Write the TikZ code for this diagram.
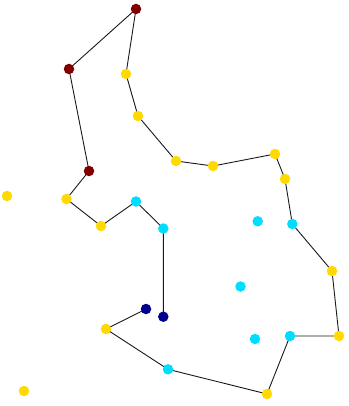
\documentclass[tikz,border=0pt]{standalone}
\definecolor{dred}{RGB}{128,0,0}
\definecolor{yel}{RGB}{255,217,0}
\definecolor{cya}{RGB}{0,221,255}
\definecolor{dblue}{RGB}{0,0,140}
\begin{document}
\begin{tikzpicture}[x=1pt,y=-1pt,
  pt/.style={circle,inner sep=0pt,minimum size=10.5pt},
  R/.style={pt,fill=dred},
  Y/.style={pt,fill=yel},
  C/.style={pt,fill=cya},
  B/.style={pt,fill=dblue},
  edge/.style={draw=black!90,line width=0.9pt}]
\useasboundingbox (0,0) rectangle (348,406);
% node positions
\coordinate (r1) at (136,9);
\coordinate (r2) at (69,69);
\coordinate (r3) at (89,171);
\coordinate (y1) at (126,74);
\coordinate (y2) at (138,116);
\coordinate (y3) at (176,161);
\coordinate (y4) at (213,166);
\coordinate (y5) at (275,154);
\coordinate (y6) at (285,179);
\coordinate (y7) at (7,196);
\coordinate (y8) at (66.5,199);
\coordinate (y9) at (101,226);
\coordinate (y10) at (332,271);
\coordinate (y11) at (339,336);
\coordinate (y12) at (267,394);
\coordinate (y13) at (106,329);
\coordinate (y14) at (24,391);
\coordinate (c1) at (136,201.5);
\coordinate (c2) at (163.3,228.5);
\coordinate (c3) at (257.7,221.3);
\coordinate (c4) at (292.3,224);
\coordinate (c5) at (240.5,286.5);
\coordinate (c6) at (255,339);
\coordinate (c7) at (290,336);
\coordinate (c8) at (168,369.3);
\coordinate (b1) at (146,309);
\coordinate (b2) at (163.3,316.7);
% connectors
\draw[edge] (b1) -- (y13) -- (c8) -- (y12) -- (c7) -- (y11) -- (y10) -- (c4) -- (y6) -- (y5) -- (y4) -- (y3) -- (y2) -- (y1) -- (r1) -- (r2) -- (r3) -- (y8) -- (y9) -- (c1) -- (c2) -- (b2);
% dots on top
\foreach \n/\s in {r1/R,r2/R,r3/R,y1/Y,y2/Y,y3/Y,y4/Y,y5/Y,y6/Y,y7/Y,y8/Y,y9/Y,y10/Y,y11/Y,y12/Y,y13/Y,y14/Y,c1/C,c2/C,c3/C,c4/C,c5/C,c6/C,c7/C,c8/C,b1/B,b2/B}
  \node[\s] (dot-\n) at (\n) {};
\end{tikzpicture}
\end{document}
